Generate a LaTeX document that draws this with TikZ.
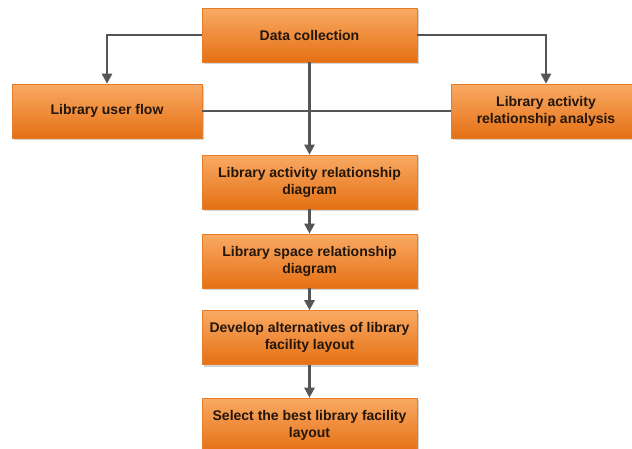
\documentclass[tikz,border=0pt]{standalone}
\usepackage{fontspec}
\setmainfont{Liberation Sans}
\usetikzlibrary{arrows.meta,shadows,positioning}

\definecolor{boxtop}{RGB}{249,170,100}
\definecolor{boxbot}{RGB}{229,112,20}
\definecolor{boxline}{RGB}{230,125,40}
\definecolor{linkgray}{RGB}{85,85,85}
\definecolor{boxtext}{RGB}{35,22,12}

\begin{document}
\begin{tikzpicture}[x=1pt,y=-1pt,
    box/.style={rectangle, draw=boxline, line width=0.6pt,
        top color=boxtop, bottom color=boxbot,
        minimum width=215pt, minimum height=54pt, align=center,
        text=boxtext, font=\fontsize{14}{17}\selectfont\bfseries,
        drop shadow={shadow xshift=2pt, shadow yshift=-2pt, opacity=0.35}},
    link/.style={draw=linkgray, line width=2.4pt},
    arr/.style={link, -{Triangle[length=10pt,width=10pt]}}]
    \useasboundingbox (0,0) rectangle (632,448);
    \node[box] (data) at (309.5,35) {Data collection};
    \node[box, minimum width=190pt] (flow) at (107,111) {Library user flow};
    \node[box, minimum width=190pt] (anal) at (546,111) {Library activity\\relationship analysis};
    \node[box] (act) at (309.5,182) {Library activity relationship\\diagram};
    \node[box] (space) at (309.5,261) {Library space relationship\\diagram};
    \node[box] (alt) at (309.5,337.5) {Develop alternatives of library\\facility layout};
    \node[box] (best) at (309.5,425) {Select the best library facility\\layout};
    % side branches and the crossing line
    \draw[arr] (data.west) -| (flow.north);
    \draw[arr] (data.east) -| (anal.north);
    \draw[link] (flow.east) -- (anal.west);
    % main chain
    \draw[arr] (data.south) -- (act.north);
    \draw[arr] (act) -- (space);
    \draw[arr] (space) -- (alt);
    \draw[arr] (alt) -- (best);
\end{tikzpicture}
\end{document}
